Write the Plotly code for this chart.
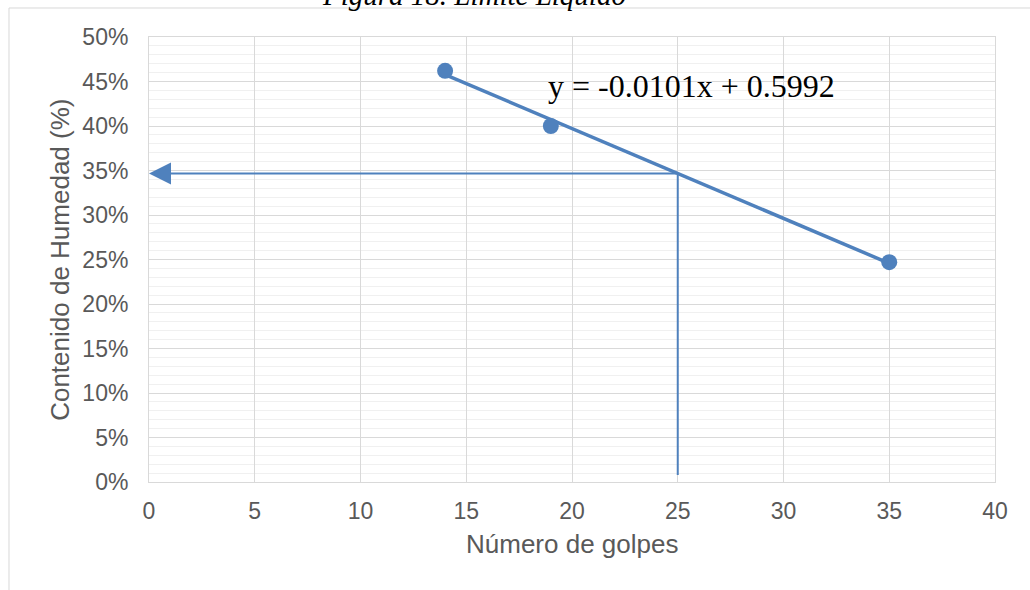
import plotly.graph_objects as go

# Liquid limit test: blow count vs. moisture content
golpes = [14, 19, 35]
humedad = [0.462, 0.400, 0.247]

# Linear trendline reported on the chart
pendiente = -0.0101
intercepto = 0.5992
x_tendencia = [min(golpes), max(golpes)]

# Liquid limit read at 25 blows
n_golpes_ll = 25
y_base_guia = 0.008

x_ticks = [0, 5, 10, 15, 20, 25, 30, 35, 40]
y_ticks = [0.0, 0.05, 0.10, 0.15, 0.20, 0.25, 0.30, 0.35, 0.40, 0.45, 0.50]
y_tick_text = [f"{int(round(v * 100))}%" for v in y_ticks]

AZUL = "#4F81BD"
GRIS_TEXTO = "#595959"
SANS = "Liberation Sans, Arial, sans-serif"
SERIF = "Liberation Serif, Times New Roman, serif"

y_tendencia = [pendiente * x + intercepto for x in x_tendencia]
ll = pendiente * n_golpes_ll + intercepto

fig = go.Figure()

# guide line from the trendline at 25 blows down to the blow axis
fig.add_trace(go.Scatter(
    x=[n_golpes_ll, n_golpes_ll], y=[ll, y_base_guia],
    mode="lines", line=dict(color=AZUL, width=2),
    hoverinfo="skip", showlegend=False,
))

fig.add_trace(go.Scatter(
    x=x_tendencia, y=y_tendencia,
    mode="lines", line=dict(color=AZUL, width=3.5),
    showlegend=False, name="Tendencia",
))

fig.add_trace(go.Scatter(
    x=golpes, y=humedad,
    mode="markers", marker=dict(color=AZUL, size=16),
    showlegend=False, name="Ensayo",
))

annotations = [
    # horizontal arrow toward the moisture axis
    dict(x=0, y=ll, ax=n_golpes_ll, ay=ll, xref="x", yref="y",
         axref="x", ayref="y", text="", showarrow=True,
         arrowhead=2, arrowsize=2.2, arrowwidth=2, arrowcolor=AZUL,
         standoff=0, startstandoff=0),
    # trendline equation
    dict(x=25.67, y=0.4445, xref="x", yref="y",
         text=f"y = {pendiente:.4f}x + {intercepto:.4f}",
         showarrow=False, xanchor="center", yanchor="middle",
         font=dict(family=SERIF, size=32, color="#000000")),
    # figure caption
    dict(x=0.384, y=1.054, xref="paper", yref="paper",
         text="<i>Figura 18. Límite Líquido</i>", showarrow=False,
         xanchor="center", yanchor="bottom",
         font=dict(family=SERIF, size=29, color="#000000")),
    # axis titles
    dict(x=0.5, y=-0.14, xref="paper", yref="paper",
         text="Número de golpes", showarrow=False,
         xanchor="center", yanchor="middle",
         font=dict(family=SANS, size=26, color=GRIS_TEXTO)),
    dict(x=-0.106, y=0.5, xref="paper", yref="paper",
         text="Contenido de Humedad (%)", showarrow=False, textangle=-90,
         xanchor="center", yanchor="middle",
         font=dict(family=SANS, size=26, color=GRIS_TEXTO)),
]

fig.update_layout(
    width=1030, height=590,
    margin=dict(l=149, r=35, t=37, b=108),
    paper_bgcolor="white", plot_bgcolor="white",
    annotations=annotations,
    shapes=[dict(type="rect", xref="paper", yref="paper",
                 x0=-0.1655, x1=1.2, y0=-0.5, y1=1.0652,
                 line=dict(color="#d9d9d9", width=1), layer="below")],
)

fig.update_xaxes(
    range=[0, 40], tickvals=x_ticks, ticktext=[str(v) for v in x_ticks],
    showgrid=True, gridcolor="#d9d9d9", gridwidth=1,
    zeroline=False, showline=True, linecolor="#d9d9d9", linewidth=1, mirror=True,
    ticks="", ticklabelstandoff=8,
    tickfont=dict(family=SANS, size=23, color=GRIS_TEXTO),
)

fig.update_yaxes(
    range=[0, 0.5], tickvals=y_ticks, ticktext=y_tick_text,
    showgrid=True, gridcolor="#d9d9d9", gridwidth=1,
    minor=dict(dtick=0.01, showgrid=True, gridcolor="#f0f0f0", gridwidth=1),
    zeroline=False, showline=True, linecolor="#d9d9d9", linewidth=1, mirror=True,
    ticks="", ticklabelstandoff=15,
    tickfont=dict(family=SANS, size=23, color=GRIS_TEXTO),
)

fig.write_html("out.html")
